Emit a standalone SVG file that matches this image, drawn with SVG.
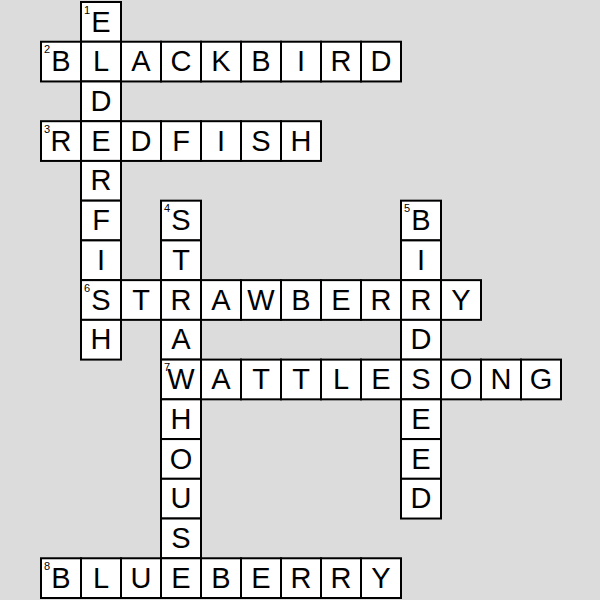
<svg xmlns="http://www.w3.org/2000/svg" width="600" height="600" viewBox="0 0 600 600">
<style>
.c{fill:#fff;stroke:#000;stroke-width:2}
.l{font-family:"Liberation Sans",Arial,sans-serif;font-size:29px;text-anchor:middle;fill:#000}
.n{font-family:"Liberation Sans",Arial,sans-serif;font-size:11px;fill:#000}
</style>
<rect width="600" height="600" fill="#dcdcdc"/>
<g id="connectors"/>
<g id="w1-elderfish">
<rect class="c" x="81" y="2" width="40" height="39.73"/>
<rect class="c" x="81" y="41.73" width="40" height="39.73"/>
<rect class="c" x="81" y="81.47" width="40" height="39.73"/>
<rect class="c" x="81" y="121.2" width="40" height="39.73"/>
<rect class="c" x="81" y="160.93" width="40" height="39.73"/>
<rect class="c" x="81" y="200.67" width="40" height="39.73"/>
<rect class="c" x="81" y="240.4" width="40" height="39.73"/>
<rect class="c" x="81" y="280.13" width="40" height="39.73"/>
<rect class="c" x="81" y="319.87" width="40" height="39.73"/>
<text class="l" x="101" y="31.5">E</text>
<text class="l" x="101" y="71.23">L</text>
<text class="l" x="101" y="110.97">D</text>
<text class="l" x="101" y="150.7">E</text>
<text class="l" x="101" y="190.43">R</text>
<text class="l" x="101" y="230.17">F</text>
<text class="l" x="101" y="269.9">I</text>
<text class="l" x="101" y="309.63">S</text>
<text class="l" x="101" y="349.37">H</text>
<text class="n" x="84" y="13.5">1</text>
</g>
<g id="w2-blackbird">
<rect class="c" x="41" y="41.73" width="40" height="39.73"/>
<rect class="c" x="121" y="41.73" width="40" height="39.73"/>
<rect class="c" x="161" y="41.73" width="40" height="39.73"/>
<rect class="c" x="201" y="41.73" width="40" height="39.73"/>
<rect class="c" x="241" y="41.73" width="40" height="39.73"/>
<rect class="c" x="281" y="41.73" width="40" height="39.73"/>
<rect class="c" x="321" y="41.73" width="40" height="39.73"/>
<rect class="c" x="361" y="41.73" width="40" height="39.73"/>
<text class="l" x="61" y="71.23">B</text>
<text class="l" x="141" y="71.23">A</text>
<text class="l" x="181" y="71.23">C</text>
<text class="l" x="221" y="71.23">K</text>
<text class="l" x="261" y="71.23">B</text>
<text class="l" x="301" y="71.23">I</text>
<text class="l" x="341" y="71.23">R</text>
<text class="l" x="381" y="71.23">D</text>
<text class="n" x="44" y="53.23">2</text>
</g>
<g id="w3-redfish">
<rect class="c" x="41" y="121.2" width="40" height="39.73"/>
<rect class="c" x="121" y="121.2" width="40" height="39.73"/>
<rect class="c" x="161" y="121.2" width="40" height="39.73"/>
<rect class="c" x="201" y="121.2" width="40" height="39.73"/>
<rect class="c" x="241" y="121.2" width="40" height="39.73"/>
<rect class="c" x="281" y="121.2" width="40" height="39.73"/>
<text class="l" x="61" y="150.7">R</text>
<text class="l" x="141" y="150.7">D</text>
<text class="l" x="181" y="150.7">F</text>
<text class="l" x="221" y="150.7">I</text>
<text class="l" x="261" y="150.7">S</text>
<text class="l" x="301" y="150.7">H</text>
<text class="n" x="44" y="132.7">3</text>
</g>
<g id="w4-strawhouse">
<rect class="c" x="161" y="200.67" width="40" height="39.73"/>
<rect class="c" x="161" y="240.4" width="40" height="39.73"/>
<rect class="c" x="161" y="280.13" width="40" height="39.73"/>
<rect class="c" x="161" y="319.87" width="40" height="39.73"/>
<rect class="c" x="161" y="359.6" width="40" height="39.73"/>
<rect class="c" x="161" y="399.33" width="40" height="39.73"/>
<rect class="c" x="161" y="439.07" width="40" height="39.73"/>
<rect class="c" x="161" y="478.8" width="40" height="39.73"/>
<rect class="c" x="161" y="518.53" width="40" height="39.73"/>
<rect class="c" x="161" y="558.27" width="40" height="39.73"/>
<text class="l" x="181" y="230.17">S</text>
<text class="l" x="181" y="269.9">T</text>
<text class="l" x="181" y="309.63">R</text>
<text class="l" x="181" y="349.37">A</text>
<text class="l" x="181" y="389.1">W</text>
<text class="l" x="181" y="428.83">H</text>
<text class="l" x="181" y="468.57">O</text>
<text class="l" x="181" y="508.3">U</text>
<text class="l" x="181" y="548.03">S</text>
<text class="l" x="181" y="587.77">E</text>
<text class="n" x="164" y="212.17">4</text>
</g>
<g id="w5-birdseed">
<rect class="c" x="401" y="200.67" width="40" height="39.73"/>
<rect class="c" x="401" y="240.4" width="40" height="39.73"/>
<rect class="c" x="401" y="280.13" width="40" height="39.73"/>
<rect class="c" x="401" y="319.87" width="40" height="39.73"/>
<rect class="c" x="401" y="359.6" width="40" height="39.73"/>
<rect class="c" x="401" y="399.33" width="40" height="39.73"/>
<rect class="c" x="401" y="439.07" width="40" height="39.73"/>
<rect class="c" x="401" y="478.8" width="40" height="39.73"/>
<text class="l" x="421" y="230.17">B</text>
<text class="l" x="421" y="269.9">I</text>
<text class="l" x="421" y="309.63">R</text>
<text class="l" x="421" y="349.37">D</text>
<text class="l" x="421" y="389.1">S</text>
<text class="l" x="421" y="428.83">E</text>
<text class="l" x="421" y="468.57">E</text>
<text class="l" x="421" y="508.3">D</text>
<text class="n" x="404" y="212.17">5</text>
</g>
<g id="w6-strawberry">
<rect class="c" x="121" y="280.13" width="40" height="39.73"/>
<rect class="c" x="201" y="280.13" width="40" height="39.73"/>
<rect class="c" x="241" y="280.13" width="40" height="39.73"/>
<rect class="c" x="281" y="280.13" width="40" height="39.73"/>
<rect class="c" x="321" y="280.13" width="40" height="39.73"/>
<rect class="c" x="361" y="280.13" width="40" height="39.73"/>
<rect class="c" x="441" y="280.13" width="40" height="39.73"/>
<text class="l" x="141" y="309.63">T</text>
<text class="l" x="221" y="309.63">A</text>
<text class="l" x="261" y="309.63">W</text>
<text class="l" x="301" y="309.63">B</text>
<text class="l" x="341" y="309.63">E</text>
<text class="l" x="381" y="309.63">R</text>
<text class="l" x="461" y="309.63">Y</text>
<text class="n" x="84" y="291.63">6</text>
</g>
<g id="w7-wattlesong">
<rect class="c" x="201" y="359.6" width="40" height="39.73"/>
<rect class="c" x="241" y="359.6" width="40" height="39.73"/>
<rect class="c" x="281" y="359.6" width="40" height="39.73"/>
<rect class="c" x="321" y="359.6" width="40" height="39.73"/>
<rect class="c" x="361" y="359.6" width="40" height="39.73"/>
<rect class="c" x="441" y="359.6" width="40" height="39.73"/>
<rect class="c" x="481" y="359.6" width="40" height="39.73"/>
<rect class="c" x="521" y="359.6" width="40" height="39.73"/>
<text class="l" x="221" y="389.1">A</text>
<text class="l" x="261" y="389.1">T</text>
<text class="l" x="301" y="389.1">T</text>
<text class="l" x="341" y="389.1">L</text>
<text class="l" x="381" y="389.1">E</text>
<text class="l" x="461" y="389.1">O</text>
<text class="l" x="501" y="389.1">N</text>
<text class="l" x="541" y="389.1">G</text>
<text class="n" x="164" y="371.1">7</text>
</g>
<g id="w8-blueberry">
<rect class="c" x="41" y="558.27" width="40" height="39.73"/>
<rect class="c" x="81" y="558.27" width="40" height="39.73"/>
<rect class="c" x="121" y="558.27" width="40" height="39.73"/>
<rect class="c" x="201" y="558.27" width="40" height="39.73"/>
<rect class="c" x="241" y="558.27" width="40" height="39.73"/>
<rect class="c" x="281" y="558.27" width="40" height="39.73"/>
<rect class="c" x="321" y="558.27" width="40" height="39.73"/>
<rect class="c" x="361" y="558.27" width="40" height="39.73"/>
<text class="l" x="61" y="587.77">B</text>
<text class="l" x="101" y="587.77">L</text>
<text class="l" x="141" y="587.77">U</text>
<text class="l" x="221" y="587.77">B</text>
<text class="l" x="261" y="587.77">E</text>
<text class="l" x="301" y="587.77">R</text>
<text class="l" x="341" y="587.77">R</text>
<text class="l" x="381" y="587.77">Y</text>
<text class="n" x="44" y="569.77">8</text>
</g>
</svg>
